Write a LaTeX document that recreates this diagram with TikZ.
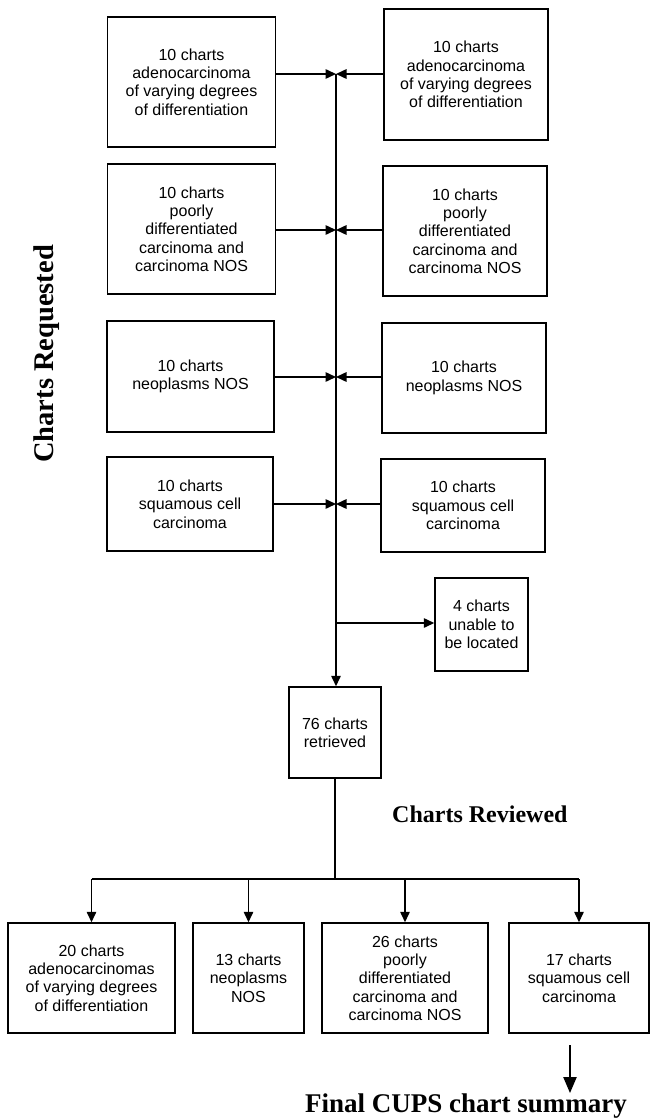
\documentclass[tikz,border=0pt]{standalone}
\usepackage{fontspec}
\setmainfont{Liberation Sans}
\newfontfamily\tnr{Liberation Serif}
\usetikzlibrary{arrows.meta}
\tikzset{
  box/.style={draw, line width=1.5pt, align=center, inner sep=0pt,
    font=\fontsize{16}{18.3}\selectfont},
  conn/.style={line width=1.5pt},
  arr/.style={line width=1.5pt, -{Triangle[length=10.5pt,width=9.5pt]}},
  bigarr/.style={line width=2.2pt, -{Triangle[length=16pt,width=13pt]}},
  heading/.style={font=\tnr\bfseries\fontsize{27}{30}\selectfont, inner sep=0pt},
}
\begin{document}
\begin{tikzpicture}[x=1pt,y=-1pt]
\useasboundingbox (0,0) rectangle (650,1118);
% left column
\node[box, minimum width=168pt, minimum height=130pt] (L1) at (191.5,82)
  {10 charts\\adenocarcinoma\\of varying degrees\\of differentiation};
\node[box, minimum width=168pt, minimum height=130pt] (L2) at (191.5,229)
  {10 charts\\poorly\\differentiated\\carcinoma and\\carcinoma NOS};
\node[box, minimum width=167pt, minimum height=111pt] (L3) at (190.5,376.5)
  {10 charts\\neoplasms NOS};
\node[box, minimum width=166pt, minimum height=94pt] (L4) at (190,504)
  {10 charts\\squamous cell\\carcinoma};
% right column
\node[box, minimum width=164pt, minimum height=131pt] (R1) at (466,74.5)
  {10 charts\\adenocarcinoma\\of varying degrees\\of differentiation};
\node[box, minimum width=164pt, minimum height=130pt] (R2) at (465,231)
  {10 charts\\poorly\\differentiated\\carcinoma and\\carcinoma NOS};
\node[box, minimum width=164pt, minimum height=110pt] (R3) at (464,378)
  {10 charts\\neoplasms NOS};
\node[box, minimum width=164pt, minimum height=93pt] (R4) at (463,505.5)
  {10 charts\\squamous cell\\carcinoma};
% middle
\node[box, minimum width=93pt, minimum height=93pt] (loc) at (481.5,624.5)
  {4 charts\\unable to\\be located};
\node[box, minimum width=92pt, minimum height=91pt] (ret) at (335,732.5)
  {76 charts\\retrieved};
% bottom
\node[box, minimum width=167pt, minimum height=110pt] (B1) at (91.5,978)
  {20 charts\\adenocarcinomas\\of varying degrees\\of differentiation};
\node[box, minimum width=111pt, minimum height=110pt] (B2) at (248.5,978)
  {13 charts\\neoplasms\\NOS};
\node[box, minimum width=166pt, minimum height=110pt] (B3) at (405,978)
  {26 charts\\poorly\\differentiated\\carcinoma and\\carcinoma NOS};
\node[box, minimum width=140pt, minimum height=110pt] (B4) at (579,978)
  {17 charts\\squamous cell\\carcinoma};
% headings
\node[heading, font=\tnr\bfseries\fontsize{28.5}{32}\selectfont, rotate=90, anchor=base west] (req) at (53,463) {Charts Requested};
\node[heading, font=\tnr\bfseries\fontsize{24}{28}\selectfont, anchor=base west] (rev) at (392,822) {Charts Reviewed};
\node[heading, anchor=base west] (final) at (305,1112) {Final CUPS chart summary};
% junctions
\coordinate (J1) at (336,74);
\coordinate (J2) at (336,230);
\coordinate (J3) at (336,377);
\coordinate (J4) at (336,504);
\coordinate (J5) at (336,623);
\coordinate (H) at (335,879);
\coordinate (fa) at (570,1045);
% arrows into main line
\draw[arr] (L1.east |- J1) -- (J1);
\draw[arr] (R1.west |- J1) -- (J1);
\draw[arr] (L2.east |- J2) -- (J2);
\draw[arr] (R2.west |- J2) -- (J2);
\draw[arr] (L3.east |- J3) -- (J3);
\draw[arr] (R3.west |- J3) -- (J3);
\draw[arr] (L4.east |- J4) -- (J4);
\draw[arr] (R4.west |- J4) -- (J4);
% main line
\draw[arr] (J1) -- (J1 |- ret.north);
\draw[arr] (J5) -- (J5 -| loc.west);
% distribution
\draw[conn] (ret.south) -- (H);
\draw[conn] (B1.north |- H) -- (B4.north |- H);
\draw[arr] (B1.north |- H) -- (B1.north);
\draw[arr] (B2.north |- H) -- (B2.north);
\draw[arr] (B3.north |- H) -- (B3.north);
\draw[arr] (B4.north |- H) -- (B4.north);
\draw[bigarr] (fa) -- (fa |- final.north);
\end{tikzpicture}
\end{document}
